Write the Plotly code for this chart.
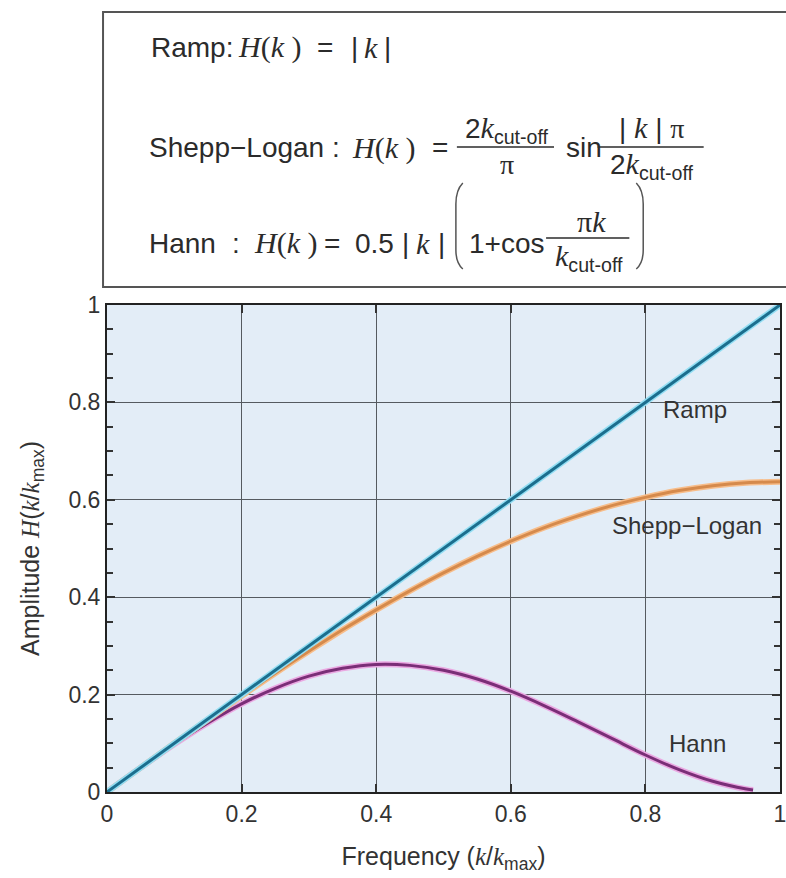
import plotly.graph_objects as go

# Normalised frequency samples (k / k_max) and filter responses
freq = [0.0, 0.05, 0.10, 0.15, 0.20, 0.25, 0.30, 0.35, 0.40, 0.45, 0.50,
        0.55, 0.60, 0.65, 0.70, 0.75, 0.80, 0.85, 0.90, 0.95, 1.0]
ramp_x = [0.0, 1.0]
ramp_y = [0.0, 1.0]
shepp_logan = [0.000, 0.050, 0.100, 0.149, 0.197, 0.244, 0.289, 0.333, 0.374,
               0.413, 0.450, 0.484, 0.515, 0.543, 0.567, 0.588, 0.605, 0.619,
               0.629, 0.635, 0.637]
hann_x = [0.0, 0.05, 0.10, 0.15, 0.20, 0.25, 0.30, 0.35, 0.40, 0.45, 0.50,
          0.55, 0.60, 0.65, 0.70, 0.75, 0.80, 0.85, 0.90, 0.95, 0.96]
hann_y = [0.000, 0.050, 0.098, 0.142, 0.181, 0.213, 0.238, 0.254, 0.262,
          0.260, 0.250, 0.232, 0.207, 0.177, 0.144, 0.110, 0.076, 0.046,
          0.022, 0.006, 0.004]

x_ticks = [0, 0.2, 0.4, 0.6, 0.8, 1]
y_ticks = [0, 0.2, 0.4, 0.6, 0.8, 1]
tick_text = ["0", "0.2", "0.4", "0.6", "0.8", "1"]

W, H = 786, 878
L, R, T, B = 107, 786, 305, 792


def fx(px):
    return (px - L) / (R - L)


def fy(py):
    return (B - py) / (B - T)


SANS = "Liberation Sans, Arial, sans-serif"
SERIF = "Liberation Serif, Times New Roman, serif"
TXT = "#2b2b2b"
LBL = "#333333"


def it(s):
    return f'<span style="font-family:{SERIF}"><i>{s}</i></span>'


fig = go.Figure()

curves = [
    (hann_x, hann_y, "#eaa8e2", "#7a2e77"),
    (freq, shepp_logan, "#f7bd8a", "#d58a4c"),
    (ramp_x, ramp_y, "#93def3", "#1b6e8e"),
]
for xs, ys, halo, core in curves:
    fig.add_trace(go.Scatter(x=xs, y=ys, mode="lines", line_shape="spline",
                             line=dict(color=halo, width=6), hoverinfo="skip",
                             showlegend=False))
    fig.add_trace(go.Scatter(x=xs, y=ys, mode="lines", line_shape="spline",
                             line=dict(color=core, width=3), hoverinfo="skip",
                             showlegend=False))

# curve labels
for text, x, y in [("Ramp", 0.873, 0.786), ("Shepp\u2212Logan", 0.862, 0.548),
                   ("Hann", 0.878, 0.100)]:
    fig.add_annotation(x=x, y=y, xref="x", yref="y", text=text, showarrow=False,
                       font=dict(family=SANS, size=24, color=LBL))

shapes = []
# formula box
shapes.append(dict(type="rect", xref="paper", yref="paper",
                   x0=fx(103), x1=fx(800), y0=fy(287), y1=fy(12),
                   line=dict(color="#555555", width=2), fillcolor="white",
                   layer="below"))

anns = []
FS = 28      # upright text in the formulas
MS = 30      # italic math symbols


def tok(text, px, py, anchor="left", family=SANS, size=FS):
    anns.append(dict(x=fx(px), y=fy(py), xref="paper", yref="paper",
                     text=text, showarrow=False, xanchor=anchor,
                     yanchor="middle", font=dict(family=family, size=size,
                                                 color=TXT)))


def hk(px, py):
    tok("<i>H</i>(<i>k</i> )", px, py, family=SERIF, size=MS)


def absk(x0, x1, x2, py):
    tok("|", x0, py, "center")
    tok("<i>k</i>", x1, py, "center", family=SERIF, size=MS)
    tok("|", x2, py, "center")


def bar(x0, x1, py):
    shapes.append(dict(type="line", xref="paper", yref="paper",
                       x0=fx(x0), x1=fx(x1), y0=fy(py), y1=fy(py),
                       line=dict(color=TXT, width=1.5)))


def kcut(prefix, px, py):
    tok(f"{prefix}<span style=\"font-family:{SERIF};font-size:{MS}px\"><i>k</i></span>"
        f"<sub>cut-off</sub>", px, py, "center")


# Ramp
Y1 = 47
tok("Ramp:", 149, Y1)
hk(237, Y1)
tok("=", 327, Y1, "center")
absk(357, 373, 390, Y1)

# Shepp-Logan
Y2 = 148
tok("Shepp\u2212Logan :", 147, Y2)
hk(352, Y2)
tok("=", 443, Y2, "center")
kcut("2", 511, Y2 - 18)
bar(460, 558, Y2 - 1)
tok("\u03c0", 511, Y2 + 16, "center", family=SERIF, size=MS - 2)
tok("sin", 568, Y2)
tok(f"| <span style=\"font-family:{SERIF};font-size:{MS}px\"><i>k</i></span> | "
    f"<span style=\"font-family:{SERIF}\">\u03c0</span>", 656, Y2 - 21, "center")
bar(602, 709, Y2 - 1)
kcut("2", 657, Y2 + 18)

# Hann
Y3 = 243
tok("Hann", 147, Y3)
tok(":", 237, Y3, "center")
hk(253, Y3)
tok("=", 334, Y3, "center")
tok("0.5", 355, Y3)
absk(408, 426, 444, Y3)
tok("1+cos", 470, Y3)
tok(f"<span style=\"font-family:{SERIF}\">\u03c0<i>k</i></span>", 596, Y3 - 22,
    "center", size=MS)
bar(550, 634, Y3 - 5)
kcut("", 593, Y3 + 14)

# tall brackets around the Hann term
lp = (f"M {fx(466)},{fy(183)} Q {fx(459)},{fy(190)} {fx(459)},{fy(204)} "
      f"L {fx(459)},{fy(250)} Q {fx(459)},{fy(263)} {fx(466)},{fy(269)}")
rp = (f"M {fx(641)},{fy(183)} Q {fx(648)},{fy(190)} {fx(648)},{fy(204)} "
      f"L {fx(648)},{fy(250)} Q {fx(648)},{fy(263)} {fx(641)},{fy(269)}")
for p in (lp, rp):
    shapes.append(dict(type="path", xref="paper", yref="paper", path=p,
                       line=dict(color="#555555", width=1.5)))

axis_common = dict(
    showline=True, linecolor="#222222", linewidth=2, mirror="ticks",
    ticks="inside", ticklen=8, tickcolor="#333333", tickwidth=1.5,
    showgrid=True, gridcolor="#555a60", gridwidth=1, zeroline=False,
    tickfont=dict(family=SANS, size=23, color=LBL),
)

fig.update_layout(
    width=W, height=H,
    margin=dict(l=L, r=W - R, t=T, b=H - B),
    paper_bgcolor="white", plot_bgcolor="#e3edf7",
    shapes=shapes, annotations=list(fig.layout.annotations) + anns,
    xaxis=dict(range=[0, 1], tickvals=x_ticks, ticktext=tick_text,
               ticklabeloverflow="allow",
               title=dict(text=f"Frequency ({it('k')}/{it('k')}<sub>max</sub>)",
                          font=dict(family=SANS, size=25, color=LBL),
                          standoff=22),
               **axis_common),
    yaxis=dict(range=[0, 1], tickvals=y_ticks, ticktext=tick_text,
               minor=dict(dtick=0.05, tick0=0, ticks="inside", ticklen=6,
                          tickcolor="#333333", showgrid=False),
               title=dict(text=f"Amplitude {it('H')}({it('k')}/{it('k')}<sub>max</sub>)",
                          font=dict(family=SANS, size=25, color=LBL),
                          standoff=22),
               **axis_common),
)

fig.write_html("out.html")
